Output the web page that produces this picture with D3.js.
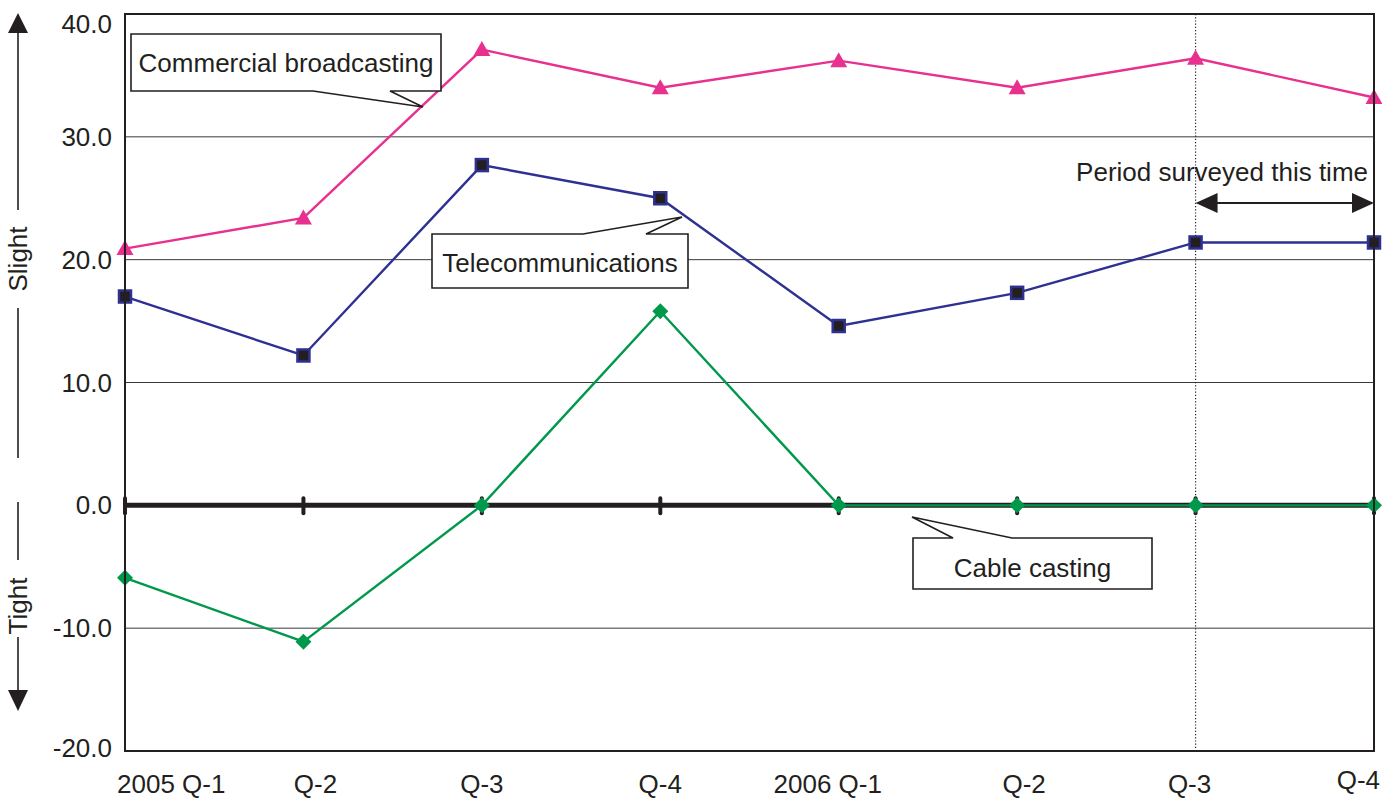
<!DOCTYPE html>
<html><head><meta charset="utf-8">
<script src="https://cdn.jsdelivr.net/npm/d3@7"></script>
<style>
body{margin:0;background:#fff;}
text{font-family:"Liberation Sans",Arial,Helvetica,sans-serif;fill:#231f20;}
</style></head>
<body><svg id="c" width="1382" height="800"></svg>
<script>
const categories = ["2005 Q-1","Q-2","Q-3","Q-4","2006 Q-1","Q-2","Q-3","Q-4"];
const commercial = [20.9, 23.4, 37.1, 34.0, 36.2, 34.0, 36.4, 33.2];
const telecom = [17.0, 12.2, 27.7, 25.0, 14.6, 17.3, 21.4, 21.4];
const cable = [-5.9, -11.1, 0.0, 15.8, 0.0, 0.0, 0.0, 0.0];
const yTicks = [40, 30, 20, 10, 0, -10, -20];
const seriesNames = ["Commercial broadcasting", "Telecommunications", "Cable casting"];

const svg = d3.select("#c");
const L = 125, R = 1374, T = 14, B = 751;
const FS = 26;
const idx = d3.range(categories.length);
const x = d3.scalePoint().domain(idx).range([L, R]).padding(0);
const y = d3.scaleLinear().domain([-20, 40]).range([B, T]);

// gridlines
svg.append("g").selectAll("line").data(yTicks.filter(v => v !== 0 && v !== 40 && v !== -20)).join("line")
  .attr("x1", L).attr("x2", R).attr("y1", d => y(d)).attr("y2", d => y(d))
  .attr("stroke", "#3a3a3a").attr("stroke-width", 1);

// y tick labels
svg.append("g").selectAll("text").data(yTicks).join("text")
  .attr("x", 112).attr("y", d => y(d) + (d === 40 ? 10 : (d === -20 ? -3 : 0)))
  .attr("dy", "0.35em").attr("text-anchor", "end").attr("font-size", FS)
  .text(d => d.toFixed(1));

// x labels
svg.append("g").selectAll("text").data(idx).join("text")
  .attr("x", i => x(i) + (i === 0 ? -8 : i === 7 ? 6 : i === 4 ? -11 : i === 1 ? 12 : i === 5 ? 7 : i === 6 ? -6 : 0))
  .attr("y", i => i === 7 ? 789 : 793)
  .attr("text-anchor", i => i === 0 ? "start" : i === 7 ? "end" : "middle")
  .attr("font-size", FS)
  .text(i => categories[i]);

// zero line
svg.append("line").attr("x1", L).attr("x2", R).attr("y1", y(0)).attr("y2", y(0))
  .attr("stroke", "#231f20").attr("stroke-width", 5);
svg.append("g").selectAll("line").data(idx).join("line")
  .attr("x1", i => x(i)).attr("x2", i => x(i)).attr("y1", y(0) - 7).attr("y2", y(0) + 8)
  .attr("stroke", "#231f20").attr("stroke-width", 4).attr("stroke-linecap", "round");

// dotted period line
svg.append("line").attr("x1", x(6)).attr("x2", x(6)).attr("y1", T).attr("y2", B)
  .attr("stroke", "#231f20").attr("stroke-width", 1.2).attr("stroke-dasharray", "1.2,2");

// series
const line = d3.line().x((d, i) => x(i)).y(d => y(d));
const cPink = "#e8308f", cBlue = "#2e3192", cGreen = "#00994c";
svg.append("path").datum(commercial).attr("d", line).attr("fill", "none").attr("stroke", cPink).attr("stroke-width", 2.4);
svg.append("path").datum(telecom).attr("d", line).attr("fill", "none").attr("stroke", cBlue).attr("stroke-width", 2.4);
svg.append("path").datum(cable).attr("d", line).attr("fill", "none").attr("stroke", cGreen).attr("stroke-width", 2.4);

// markers
svg.append("g").selectAll("path").data(commercial).join("path")
  .attr("transform", (d, i) => `translate(${x(i)},${y(d)})`)
  .attr("d", "M0,-8.5 L8.5,6.5 L-8.5,6.5 Z").attr("fill", cPink);
svg.append("g").selectAll("rect").data(telecom).join("rect")
  .attr("x", (d, i) => x(i) - 6).attr("y", d => y(d) - 6).attr("width", 12).attr("height", 12)
  .attr("fill", "#231f20").attr("stroke", cBlue).attr("stroke-width", 2.5);
svg.append("g").selectAll("path").data(cable).join("path")
  .attr("transform", (d, i) => `translate(${x(i)},${y(d)})`)
  .attr("d", "M0,-8 L8,0 L0,8 L-8,0 Z").attr("fill", cGreen);

// callouts
function callout(bx0, by0, bx1, by1, p0, p1, tip, side, label, tdy) {
  let d;
  if (side === "bottom") {
    d = `M${bx0},${by0} L${bx1},${by0} L${bx1},${by1} L${p1},${by1} L${tip[0]},${tip[1]} L${p0},${by1} L${bx0},${by1} Z`;
  } else {
    d = `M${bx0},${by0} L${p0},${by0} L${tip[0]},${tip[1]} L${p1},${by0} L${bx1},${by0} L${bx1},${by1} L${bx0},${by1} Z`;
  }
  svg.append("path").attr("d", d).attr("fill", "#fff").attr("stroke", "#231f20").attr("stroke-width", 1.6).attr("stroke-linejoin", "miter");
  svg.append("text").attr("x", (bx0 + bx1) / 2).attr("y", (by0 + by1) / 2 + tdy).attr("dy", "0.35em")
    .attr("text-anchor", "middle").attr("font-size", FS).text(label);
}
callout(131, 34, 441, 91, 313, 390, [423, 107], "bottom", seriesNames[0], 0);
callout(432, 234, 688, 288, 583, 646, [682, 217], "top", seriesNames[1], 2);
callout(913, 538, 1152, 589, 953, 1012, [912, 517], "top", seriesNames[2], 4);

// period surveyed arrow
svg.append("text").attr("x", 1368).attr("y", 181).attr("text-anchor", "end").attr("font-size", FS).text("Period surveyed this time");
const ay = 203;
svg.append("line").attr("x1", x(6) + 18).attr("x2", R - 18).attr("y1", ay).attr("y2", ay).attr("stroke", "#231f20").attr("stroke-width", 2);
svg.append("path").attr("d", `M${x(6)},${ay} L${x(6) + 22},${ay - 10} L${x(6) + 22},${ay + 10} Z`).attr("fill", "#231f20");
svg.append("path").attr("d", `M${R},${ay} L${R - 22},${ay - 10} L${R - 22},${ay + 10} Z`).attr("fill", "#231f20");

// frame
svg.append("rect").attr("x", L).attr("y", T).attr("width", R - L).attr("height", B - T)
  .attr("fill", "none").attr("stroke", "#231f20").attr("stroke-width", 2);

// Slight / Tight side indicator
const g = svg.append("g");
const sx = 18;
g.append("path").attr("d", `M${sx},13 L${sx + 10},33 L${sx - 10},33 Z`).attr("fill", "#231f20");
g.append("line").attr("x1", sx).attr("x2", sx).attr("y1", 32).attr("y2", 210).attr("stroke", "#231f20").attr("stroke-width", 1.6);
g.append("text").attr("transform", `translate(${sx + 9},259) rotate(-90)`).attr("text-anchor", "middle").attr("font-size", FS).text("Slight");
g.append("line").attr("x1", sx).attr("x2", sx).attr("y1", 308).attr("y2", 458).attr("stroke", "#231f20").attr("stroke-width", 1.6);
g.append("line").attr("x1", sx).attr("x2", sx).attr("y1", 502).attr("y2", 560).attr("stroke", "#231f20").attr("stroke-width", 1.6);
g.append("text").attr("transform", `translate(${sx + 9},606) rotate(-90)`).attr("text-anchor", "middle").attr("font-size", FS).text("Tight");
g.append("line").attr("x1", sx).attr("x2", sx).attr("y1", 637).attr("y2", 692).attr("stroke", "#231f20").attr("stroke-width", 1.6);
g.append("path").attr("d", `M${sx},711 L${sx + 10},690 L${sx - 10},690 Z`).attr("fill", "#231f20");
</script></body></html>
